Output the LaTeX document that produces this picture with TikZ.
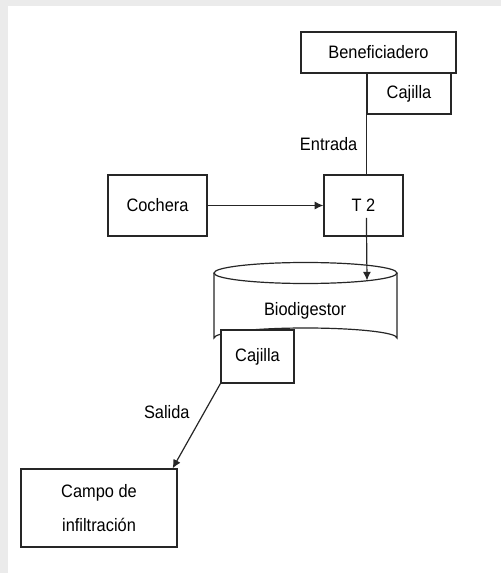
\documentclass[tikz,border=0pt]{standalone}
\usepackage{fontspec}
\setmainfont[FakeStretch=0.91]{Liberation Sans}
\usetikzlibrary{arrows.meta,positioning}

\begin{document}
\begin{tikzpicture}[
    x=0.75pt, y=-0.75pt,
    box/.style={
        rectangle,
        draw=black!85,
        fill=white,
        line width=0.9pt,
        inner sep=0pt,
        minimum width=#1,
        align=center,
        font=\fontsize{13.5}{15}\selectfont
    },
    line/.style={
        draw=black!85,
        line width=0.9pt
    },
    arrow/.style={
        line,
        -{Latex[length=6.5pt,width=6pt]}
    },
    label/.style={
        font=\fontsize{13.5}{15}\selectfont
    }
]

% page and grey margin strips
\useasboundingbox (0,0) rectangle (501,573);
\fill[black!8] (0,0) rectangle (8,573);
\fill[black!8] (0,0) rectangle (501,6);

% Beneficiadero and its Cajilla
\node[box=116.25pt, minimum height=30.75pt] (benef) at (378.5,52.5) {Beneficiadero};
\node[box=63pt, minimum height=30.75pt] (cajin) at (409,93.5) {Cajilla};

% T 2 and Cochera
\node[box=59.25pt, minimum height=45.75pt] (t2) at (363.5,205.5) {T 2};
\node[box=74.25pt, minimum height=45.75pt] (cochera) at (157.5,205.5) {Cochera};

% Biodigestor (cylinder)
\draw[line, fill=white] (214,273) -- (214,338)
    arc[start angle=180, end angle=360, x radius=91.5, y radius=10] -- (397,273);
\draw[line] (305.5,273) ellipse[x radius=91.5, y radius=10.5];
\node[label] (bio) at (305,311) {Biodigestor};
\coordinate (bioin) at (367,280.5);

% output Cajilla
\node[box=54.75pt, minimum height=39.75pt] (cajout) at (257.5,356.5) {Cajilla};

% Campo de infiltracion
\node[box=117pt, minimum height=58.5pt] (campo) at (99,508) {Campo de\\[11pt]infiltración};

% connectors
\draw[line] (cajin.south west) -- (t2.north -| cajin.south west)
    node[midway, left=3pt, label] {Entrada};
\draw[arrow] ([yshift=14pt]t2.south -| cajin.south west) -- (bioin);
\draw[arrow] (cochera.east) -- (t2.west);
\draw[arrow] (cajout.south west) -- ([xshift=-3.75pt]campo.north east)
    node[midway, above left=2pt, label] {Salida};

\end{tikzpicture}
\end{document}
